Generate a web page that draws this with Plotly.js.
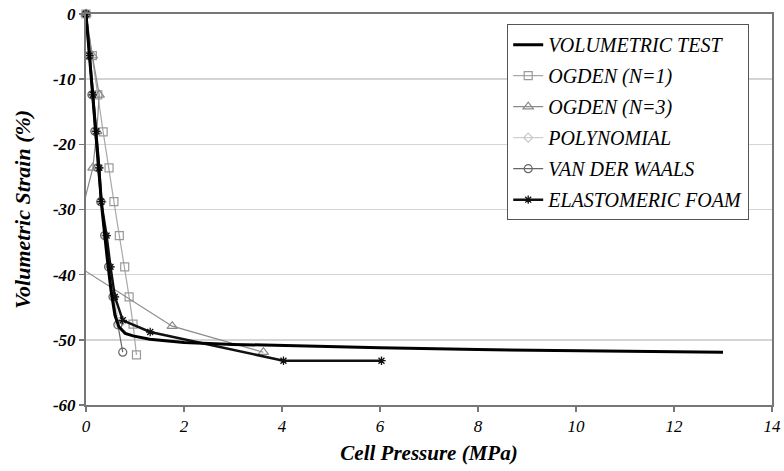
<!DOCTYPE html>
<html>
<head>
<meta charset="utf-8">
<script src="https://cdn.plot.ly/plotly-3.0.1.min.js"></script>
<style>html,body{margin:0;padding:0;background:#fff;}</style>
</head>
<body>
<div id="chart" style="width:784px;height:471px"></div>
<script>
// Volumetric test (experimental)
const testX = [0, 0.11, 0.22, 0.33, 0.43, 0.51, 0.59, 0.67, 0.8, 0.96, 1.3, 2, 3, 4, 6, 8, 10, 13];
const testY = [0, -10, -20.9, -30.2, -37.3, -42.4, -46.2, -48, -49, -49.4, -49.9, -50.4, -50.7, -50.9, -51.2, -51.5, -51.7, -51.9];
// Ogden N=1
const ogden1X = [0, 0.13, 0.24, 0.35, 0.47, 0.57, 0.68, 0.79, 0.88, 0.96, 1.03];
const ogden1Y = [0, -6.4, -12.4, -18.1, -23.6, -28.8, -34, -38.8, -43.4, -47.6, -52.3];
// Ogden N=3
const ogden3X = [0, 0.13, 0.27, 0.22, 0.14, -0.06, -0.12, -0.04, 1.76, 3.62];
const ogden3Y = [0, -6.4, -12.4, -18, -23.6, -29.5, -34.2, -39.3, -47.9, -51.9];
// Polynomial
const polyX = [0, 0.07, 0.14, 0.2, 0.26, 0.32, 0.4, 0.48, 0.57, 0.68];
const polyY = [0, -6.4, -12.4, -18, -23.6, -28.8, -34, -38.8, -43.4, -47.6];
// Van der Waals
const vdwX = [0, 0.06, 0.12, 0.18, 0.24, 0.3, 0.38, 0.46, 0.55, 0.65, 0.75];
const vdwY = [0, -6.4, -12.4, -18, -23.6, -28.8, -34, -38.8, -43.4, -47.7, -51.9];
// Elastomeric foam
const foamX = [0, 0.07, 0.14, 0.21, 0.27, 0.31, 0.42, 0.5, 0.59, 0.75, 1.31, 4.03, 6.03];
const foamY = [0, -6.4, -12.4, -18, -23.6, -28.8, -34, -38.8, -43.4, -47, -48.8, -53.2, -53.2];

const seriesNames = ['VOLUMETRIC TEST', 'OGDEN (N=1)', 'OGDEN (N=3)', 'POLYNOMIAL', 'VAN DER WAALS', 'ELASTOMERIC FOAM'];
const xTicks = [0, 2, 4, 6, 8, 10, 12, 14];
const yTicks = [0, -10, -20, -30, -40, -50, -60];

const traces = [
  {x: ogden1X, y: ogden1Y, name: seriesNames[1], mode: 'lines+markers', legendgroup: 'g2', legendrank: 2,
   line: {color: '#a8a8a8', width: 1.2}, marker: {symbol: 'square-open', size: 8, color: '#9a9a9a', line: {width: 1.2}}},
  {x: ogden3X, y: ogden3Y, name: seriesNames[2], mode: 'lines+markers', legendgroup: 'g3', legendrank: 3,
   line: {color: '#8a8a8a', width: 1.2}, marker: {symbol: 'triangle-up-open', size: 9, color: '#8a8a8a', line: {width: 1.2}}},
  {x: polyX, y: polyY, name: seriesNames[3], mode: 'lines+markers', legendgroup: 'g4', legendrank: 4,
   line: {color: '#cfcfcf', width: 1.2}, marker: {symbol: 'diamond-open', size: 7, color: '#c8c8c8', line: {width: 1.2}}},
  {x: vdwX, y: vdwY, name: seriesNames[4], mode: 'lines+markers', legendgroup: 'g5', legendrank: 5,
   line: {color: '#666666', width: 1.2}, marker: {symbol: 'circle-open', size: 8, color: '#666666', line: {width: 1.2}}},
  {x: foamX, y: foamY, name: seriesNames[5], mode: 'lines+markers', legendgroup: 'g6', legendrank: 6,
   line: {color: '#111111', width: 2.5}, marker: {symbol: 'asterisk-open', size: 7, color: '#111111', line: {width: 1.3, color: '#111111'}}},
  {x: testX, y: testY, name: seriesNames[0], mode: 'lines', legendgroup: 'g1', legendrank: 1,
   line: {color: '#000000', width: 3}}
];
for (const t of traces) { t.cliponaxis = false; }

const layout = {
  width: 784, height: 471,
  margin: {l: 86, r: 12, t: 14, b: 66},
  paper_bgcolor: '#ffffff', plot_bgcolor: '#ffffff',
  font: {family: 'Liberation Serif', size: 17, color: '#000'},
  showlegend: true,
  legend: {
    x: 0.614, y: 0.974, xanchor: 'left', yanchor: 'top',
    bgcolor: '#ffffff', bordercolor: '#555555', borderwidth: 1,
    traceorder: 'grouped', tracegroupgap: 2,
    font: {family: 'Liberation Serif', size: 20, style: 'italic', color: '#000'}
  },
  xaxis: {
    range: [0, 14], tickvals: xTicks, ticktext: xTicks.map(String),
    showgrid: false, zeroline: false,
    showline: true, linecolor: '#777777', linewidth: 2, mirror: true,
    ticks: 'outside', ticklen: 5, tickcolor: '#777777', tickwidth: 1.5,
    tickfont: {family: 'Liberation Serif', size: 17, style: 'italic', color: '#000'},
    title: {text: 'Cell Pressure (MPa)', standoff: 10,
      font: {family: 'Liberation Serif', size: 21, style: 'italic', weight: 'bold', color: '#000'}}
  },
  yaxis: {
    range: [-60, 0], tickvals: yTicks, ticktext: yTicks.map(String),
    showgrid: true, gridcolor: '#d4d4d4', gridwidth: 1.5, zeroline: false,
    showline: true, linecolor: '#777777', linewidth: 2, mirror: true,
    ticks: 'outside', ticklen: 5, tickcolor: '#777777', tickwidth: 1.5,
    tickfont: {family: 'Liberation Serif', size: 17, style: 'italic', weight: 'bold', color: '#000'},
    title: {text: 'Volumetric Strain (%)', standoff: 16,
      font: {family: 'Liberation Serif', size: 22, style: 'italic', weight: 'bold', color: '#000'}}
  }
};

Plotly.newPlot('chart', traces, layout, {staticPlot: true});
</script>
</body>
</html>
